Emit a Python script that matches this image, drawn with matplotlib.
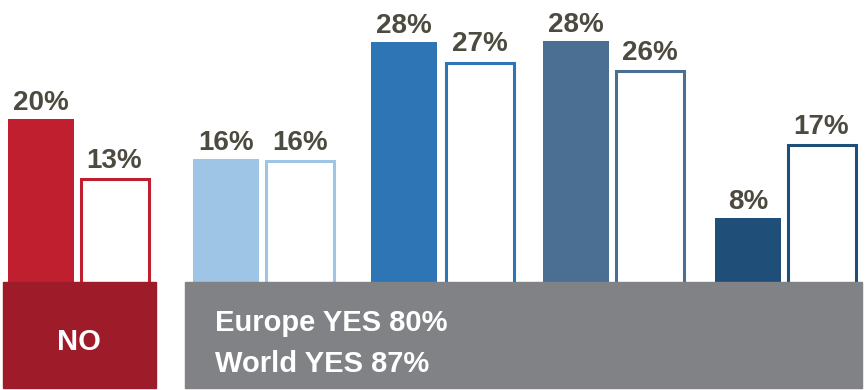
import matplotlib
matplotlib.use("Agg")
import matplotlib.pyplot as plt
from matplotlib.patches import Rectangle

plt.rcParams['font.family'] = ['Liberation Sans', 'DejaVu Sans']

# data: bar heights (percent), and the printed labels
filled_heights = [20.0, 15.4, 28.7, 28.9, 8.7]
outline_heights = [13.2, 15.2, 26.4, 25.4, 17.0]
filled_labels = ['20%', '16%', '28%', '28%', '8%']
outline_labels = ['13%', '16%', '27%', '26%', '17%']
no_text = 'NO'
yes_lines = ['Europe YES 80%', 'World YES 87%']

# styling / layout
bar_colors = ['#c01f30', '#9fc5e6', '#2e75b6', '#4a6f93', '#1f4e79']
filled_x = [41, 226, 404, 576, 748]
outline_x = [114.5, 299.7, 479.5, 649.5, 821.5]
label_color = '#4d4b3f'
W, H = 866, 390

fig = plt.figure(figsize=(W / 100, H / 100), dpi=100)
ax = fig.add_axes([0, 0, 1, 1])
ax.set_xlim(0, W)
# baseline at pixel 294.9, 8.8 px per percent
ax.set_ylim((294.9 - H) / 8.8, 294.9 / 8.8)
ax.axis('off')

ax.bar(filled_x, filled_heights, width=66, color=bar_colors, linewidth=0, zorder=2)
ax.bar(outline_x, outline_heights, width=68, color='white', edgecolor=bar_colors,
       linewidth=2.2, zorder=2)

for x, h, t in zip(filled_x, filled_heights, filled_labels):
    ax.annotate(t, (x, h), xytext=(0, 6.5), textcoords='offset points',
                ha='center', va='baseline', fontsize=20, fontweight='bold', color=label_color)
for x, h, t in zip(outline_x, outline_heights, outline_labels):
    ax.annotate(t, (x, h), xytext=(0, 8), textcoords='offset points',
                ha='center', va='baseline', fontsize=20, fontweight='bold', color=label_color)

# bottom boxes (pixel layout -> figure fraction)
def box(x0, x1, y0, y1, color):
    fig.add_artist(Rectangle((x0 / W, 1 - y1 / H), (x1 - x0) / W, (y1 - y0) / H,
                             transform=fig.transFigure, color=color, zorder=5))

box(3, 156, 282, 388, '#9e1b2a')
box(185, 862, 282, 388, '#818286')

fig.text(79 / W, 1 - 350 / H, no_text, ha='center', va='baseline', color='white',
         fontsize=21, fontweight='bold', zorder=6)
fig.text(215 / W, 1 - 331 / H, yes_lines[0], ha='left', va='baseline', color='white',
         fontsize=21, fontweight='bold', zorder=6)
fig.text(215 / W, 1 - 371.5 / H, yes_lines[1], ha='left', va='baseline', color='white',
         fontsize=21, fontweight='bold', zorder=6)

fig.savefig('out.png', dpi=100)
